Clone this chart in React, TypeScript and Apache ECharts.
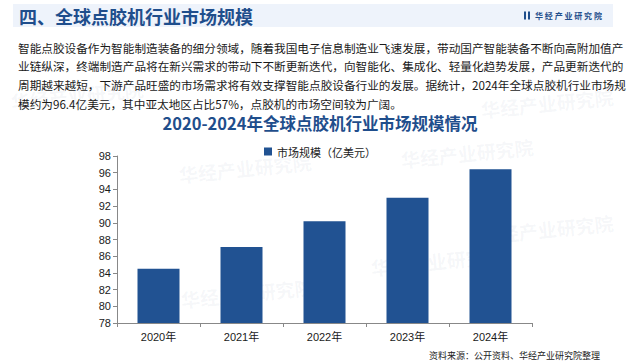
import React, { useEffect, useRef } from "react";
import * as echarts from "echarts";

const categories = ["2020年", "2021年", "2022年", "2023年", "2024年"];
const marketSize = [84.5, 87.1, 90.2, 93.0, 96.4];
const seriesName = "市场规模（亿美元）";
const headerTitle = "四、全球点胶机行业市场规模";
const chartTitle = "2020-2024年全球点胶机行业市场规模情况";
const brand = "华经产业研究院";
const paragraphLines = [
  "智能点胶设备作为智能制造装备的细分领域，随着我国电子信息制造业飞速发展，带动国产智能装备不断向高附加值产",
  "业链纵深，终端制造产品将在新兴需求的带动下不断更新迭代，向智能化、集成化、轻量化趋势发展，产品更新迭代的",
  "周期越来越短，下游产品旺盛的市场需求将有效支撑智能点胶设备行业的发展。据统计，2024年全球点胶机行业市场规",
  "模约为96.4亿美元，其中亚太地区占比57%，点胶机的市场空间较为广阔。",
];
const sourceText = "资料来源：公开资料、华经产业研究院整理";

const CJK = '"Noto Sans CJK SC", "Noto Sans", sans-serif';
const NUM = '"Liberation Sans", Arial, "Noto Sans CJK SC", sans-serif';

export default function App() {
  const ref = useRef<HTMLDivElement>(null);
  useEffect(() => {
    if (!ref.current) return;
    const chart = echarts.init(ref.current, null, { renderer: "svg" });
    const watermarks = [
      { x: 178, y: 165 },
      { x: 400, y: 150 },
      { x: 180, y: 290 },
      { x: 370, y: 258 },
      { x: 10, y: 92 },
      { x: 480, y: 100 },
      { x: 480, y: 226 },
    ];
    const graphics: any[] = [
      {
        type: "rect",
        shape: { x: 13, y: 4, width: 600, height: 23 },
        style: { fill: "#eef3fb" },
        z: 0,
      },
      ...watermarks.map((w) => ({
        type: "text",
        x: w.x,
        y: w.y,
        rotation: 0.1,
        style: {
          text: brand,
          font: `bold 19px ${CJK}`,
          fill: "rgba(120,140,170,0.07)",
        },
        z: 0,
      })),
      {
        type: "text",
        x: 19,
        y: 15.5,
        style: {
          text: headerTitle,
          font: `bold 18px ${CJK}`,
          fill: "#1f4e8c",
          verticalAlign: "middle",
        },
        z: 5,
      },
      {
        type: "rect",
        shape: { x: 524, y: 11.5, width: 2, height: 8 },
        style: { fill: "#1f4e8c" },
        z: 5,
      },
      {
        type: "rect",
        shape: { x: 528, y: 11.5, width: 2, height: 8 },
        style: { fill: "#1f4e8c" },
        z: 5,
      },
      {
        type: "text",
        x: 535,
        y: 15.5,
        style: {
          text: "华 经 产 业 研 究 院",
          font: `bold 8px ${CJK}`,
          fill: "#1f4e8c",
          verticalAlign: "middle",
        },
        z: 5,
      },
      ...paragraphLines.map((line, i) => ({
        type: "text",
        x: 18,
        y: 47 + i * 18.7,
        style: {
          text: line,
          font: `11.65px ${CJK}`,
          fill: "#1a1a1a",
          verticalAlign: "middle",
        },
        z: 5,
      })),
      {
        type: "text",
        x: 600,
        y: 355,
        style: {
          text: sourceText,
          font: `9px ${CJK}`,
          fill: "#222",
          align: "right",
          verticalAlign: "middle",
        },
        z: 5,
      },
    ];
    chart.setOption({
      animation: false,
      backgroundColor: "#ffffff",
      title: {
        text: chartTitle,
        left: "center",
        top: 110,
        textStyle: {
          fontFamily: CJK,
          fontWeight: "bold",
          fontSize: 16.5,
          color: "#1f4e8c",
        },
      },
      legend: {
        top: 141,
        left: "center",
        itemWidth: 8,
        itemHeight: 8,
        itemGap: 6,
        icon: "rect",
        textStyle: { fontFamily: CJK, fontSize: 11, color: "#222" },
        data: [seriesName],
      },
      grid: { left: 117, right: 108, top: 156, bottom: 40 },
      xAxis: {
        type: "category",
        data: categories,
        axisLine: { lineStyle: { color: "#888", width: 1 } },
        axisTick: { show: true, length: 4, lineStyle: { color: "#888" } },
        axisLabel: {
          fontFamily: NUM,
          fontSize: 11,
          color: "#1a1a1a",
          margin: 8,
        },
      },
      yAxis: {
        type: "value",
        min: 78,
        max: 98,
        interval: 2,
        axisLine: { show: true, lineStyle: { color: "#888", width: 1 } },
        axisTick: { show: true, length: 4, lineStyle: { color: "#888" } },
        splitLine: { show: false },
        axisLabel: {
          fontFamily: NUM,
          fontSize: 11,
          color: "#1a1a1a",
          margin: 6,
        },
      },
      series: [
        {
          name: seriesName,
          type: "bar",
          data: marketSize,
          barWidth: 42,
          itemStyle: { color: "#215292" },
        },
      ],
      graphic: graphics,
    });
    return () => chart.dispose();
  }, []);
  return <div ref={ref} style={{ width: 640, height: 363, position: "absolute", left: 0, top: 0 }} />;
}
